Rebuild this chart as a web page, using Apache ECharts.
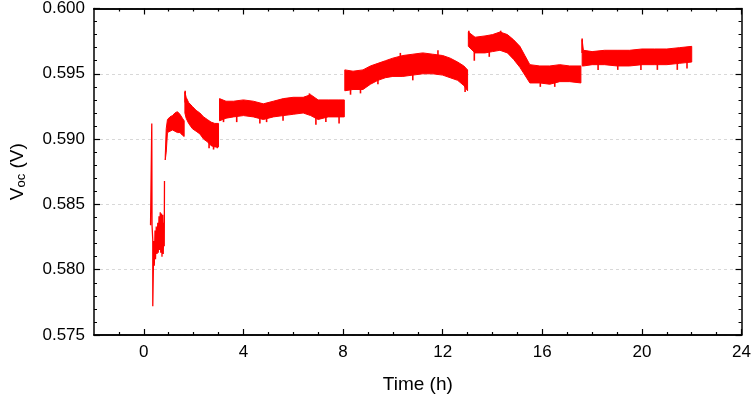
<!DOCTYPE html>
<html><head><meta charset="utf-8">
<script src="https://cdn.jsdelivr.net/npm/echarts@6/dist/echarts.min.js"></script>
<style>html,body{margin:0;padding:0;background:#fff}#c{width:754px;height:399px}</style>
</head><body><div id="c"></div>
<script>
// X tick values (h)
const xMajorTicks = [0, 4, 8, 12, 16, 20, 24];
const xMinorTicks = [-1, 1, 2, 3, 5, 6, 7, 9, 10, 11, 13, 14, 15, 17, 18, 19, 21, 22, 23];

// Start-up transient (h, V)
const transientTime = [0.27, 0.31, 0.32, 0.33, 0.36, 0.36, 0.40, 0.42, 0.45, 0.47, 0.50, 0.53, 0.56, 0.58, 0.61, 0.63, 0.66, 0.68, 0.71, 0.73, 0.76, 0.78, 0.80, 0.82, 0.83];
const transientVoc  = [0.5834, 0.5834, 0.5912, 0.5834, 0.5823, 0.5772, 0.5822, 0.5803, 0.5830, 0.5808, 0.5833, 0.5812, 0.5836, 0.5813, 0.5841, 0.5815, 0.5844, 0.5813, 0.5843, 0.5810, 0.5842, 0.5812, 0.5836, 0.5818, 0.5868];

// Noisy band: time (h), upper and lower envelope (V); null separates segments
const time = [
  0.86, 0.90, 0.95, 1.05, 1.15, 1.25, 1.35, 1.45, 1.55, 1.62, null,
  1.65, 1.70, 1.80, 1.95, 2.10, 2.25, 2.40, 2.55, 2.70, 2.85, 3.00, null,
  3.04, 3.3, 3.6, 4.0, 4.4, 4.8, 5.2, 5.6, 6.0, 6.4, 6.7, 7.0, 7.4, 7.8, 8.05, null,
  8.07, 8.4, 8.8, 9.1, 9.4, 9.7, 10.0, 10.4, 10.8, 11.2, 11.6, 12.0, 12.3, 12.6, 12.85, 13.0, null,
  13.03, 13.3, 13.7, 14.0, 14.3, 14.6, 14.85, 15.1, 15.3, 15.5, 15.9, 16.3, 16.7, 17.1, 17.55, null,
  17.6, 17.65, 18.0, 18.5, 19.0, 19.5, 20.0, 20.5, 21.0, 21.5, 22.0
];
const upper = [
  0.5887, 0.5908, 0.5915, 0.5917, 0.5918, 0.5920, 0.5921, 0.5919, 0.5916, 0.5914, null,
  0.5936, 0.5932, 0.5928, 0.5925, 0.5922, 0.5920, 0.5917, 0.5915, 0.5913, 0.5912, 0.5912, null,
  0.5931, 0.5929, 0.5929, 0.5930, 0.5929, 0.5927, 0.5929, 0.5931, 0.5932, 0.5932, 0.5934, 0.5930, 0.5930, 0.5930, 0.5930, null,
  0.5953, 0.5952, 0.5953, 0.5956, 0.5958, 0.5960, 0.5962, 0.5964, 0.5965, 0.5966, 0.5965, 0.5964, 0.5962, 0.5959, 0.5956, 0.5953, null,
  0.5982, 0.5978, 0.5979, 0.5980, 0.5982, 0.5980, 0.5976, 0.5971, 0.5964, 0.5957, 0.5956, 0.5956, 0.5957, 0.5956, 0.5956, null,
  0.5976, 0.5968, 0.5967, 0.5968, 0.5968, 0.5968, 0.5969, 0.5969, 0.5969, 0.5970, 0.5971
];
const lower = [
  0.5884, 0.5890, 0.5905, 0.5906, 0.5907, 0.5906, 0.5905, 0.5905, 0.5903, 0.5902, null,
  0.5920, 0.5916, 0.5912, 0.5908, 0.5906, 0.5904, 0.5900, 0.5898, 0.5895, 0.5894, 0.5894, null,
  0.5914, 0.5916, 0.5917, 0.5918, 0.5917, 0.5915, 0.5917, 0.5918, 0.5919, 0.5920, 0.5918, 0.5915, 0.5917, 0.5917, 0.5917, null,
  0.5937, 0.5938, 0.5938, 0.5942, 0.5945, 0.5947, 0.5948, 0.5948, 0.5949, 0.5950, 0.5950, 0.5949, 0.5947, 0.5945, 0.5941, 0.5937, null,
  0.5971, 0.5966, 0.5966, 0.5967, 0.5968, 0.5966, 0.5961, 0.5955, 0.5949, 0.5943, 0.5943, 0.5942, 0.5944, 0.5944, 0.5943, null,
  0.5956, 0.5956, 0.5957, 0.5957, 0.5956, 0.5956, 0.5957, 0.5957, 0.5957, 0.5958, 0.5959
];

// Individual noise spikes (h, V)
const spikeTime = [1.66, 2.62, 2.80, 2.95,
  3.20, 3.73, 4.66, 4.93, 5.59, 6.65, 6.91, 7.31, 7.84,
  8.30, 8.70, 9.40, 10.30, 10.80, 11.81, 12.90,
  13.05, 13.27, 13.87, 14.33, 15.92, 16.50,
  17.60, 18.24, 19.03, 19.96, 20.62, 21.42, 21.81];
const spikeVoc = [0.5937, 0.5893, 0.5892, 0.5893,
  0.5913, 0.5913, 0.5912, 0.5913, 0.5914, 0.5935, 0.5911, 0.5913, 0.5912,
  0.5934, 0.5935, 0.5942, 0.5966, 0.5945, 0.5968, 0.5936,
  0.5983, 0.5960, 0.5963, 0.5983, 0.5940, 0.5940,
  0.5977, 0.5953, 0.5953, 0.5953, 0.5953, 0.5953, 0.5954];

// split into segments
const segments = [];
let cur = [];
for (let i = 0; i < time.length; i++) {
  if (time[i] === null) { if (cur.length) segments.push(cur); cur = []; }
  else cur.push(i);
}
if (cur.length) segments.push(cur);

function nearestSample(t) {
  let best = -1, bd = Infinity;
  for (let i = 0; i < time.length; i++) {
    if (time[i] === null) continue;
    const d = Math.abs(time[i] - t);
    if (d < bd) { bd = d; best = i; }
  }
  return best;
}

const RED = '#ff0000';
const FONT = 'Liberation Sans, Arial, sans-serif';

const chart = echarts.init(document.getElementById('c'), null, {renderer: 'canvas'});

function xAxisDef(pos, ticks, len, labels) {
  return {
    type: 'value', position: pos, min: -2, max: 24, interval: 1,
    axisLine: {show: true, onZero: false, lineStyle: {color: '#000', width: 1.5}},
    axisTick: {show: true, inside: true, length: len, customValues: ticks, lineStyle: {color: '#000', width: 1.2}},
    axisLabel: labels ? {show: true, customValues: xMajorTicks, fontSize: 17, color: '#000', fontFamily: FONT, margin: 9} : {show: false},
    splitLine: {show: false}
  };
}

const option = {
  animation: false,
  backgroundColor: '#fff',
  grid: {left: 91, right: 9, top: 8, bottom: 63, containLabel: false},
  xAxis: [
    Object.assign(xAxisDef('bottom', xMinorTicks, 3, true), {
      name: 'Time (h)', nameLocation: 'middle', nameGap: 40,
      nameTextStyle: {fontSize: 19, color: '#000', fontFamily: FONT}
    }),
    xAxisDef('bottom', xMajorTicks, 6, false),
    xAxisDef('top', xMinorTicks, 3, false),
    xAxisDef('top', xMajorTicks, 6, false)
  ],
  yAxis: [
    {
      type: 'value', position: 'left', min: 0.575, max: 0.600, interval: 0.005,
      axisLine: {show: true, onZero: false, lineStyle: {color: '#000', width: 1.5}},
      axisTick: {show: true, inside: true, length: 6, lineStyle: {color: '#000', width: 1.2}},
      minorTick: {show: true, splitNumber: 5, length: 3, lineStyle: {color: '#000', width: 1}},
      axisLabel: {fontSize: 17, color: '#000', fontFamily: FONT, margin: 9, formatter: v => v.toFixed(3)},
      splitLine: {show: true, lineStyle: {color: '#d8d8d8', type: [3, 3], width: 1}},
      name: '{a|V}{b|oc}{a| (V)}', nameLocation: 'middle', nameGap: 66, nameRotate: 90,
      nameTextStyle: {color: '#000', fontFamily: FONT, rich: {
        a: {fontSize: 19, fontFamily: FONT, color: '#000'},
        b: {fontSize: 13, fontFamily: FONT, color: '#000', verticalAlign: 'bottom', padding: [8, 0, 0, 0]}
      }}
    },
    {
      type: 'value', position: 'right', min: 0.575, max: 0.600, interval: 0.005,
      axisLine: {show: true, onZero: false, lineStyle: {color: '#000', width: 1.5}},
      axisTick: {show: true, inside: true, length: 6, lineStyle: {color: '#000', width: 1.2}},
      minorTick: {show: true, splitNumber: 5, length: 3, lineStyle: {color: '#000', width: 1}},
      axisLabel: {show: false},
      splitLine: {show: false}
    }
  ],
  series: [
    {
      type: 'custom',
      xAxisIndex: 0, yAxisIndex: 0,
      data: segments.map((s, k) => [time[s[0]], upper[s[0]], k]),
      encode: {x: 0, y: 1},
      renderItem: function (params, api) {
        const seg = segments[params.dataIndex];
        const pts = [];
        seg.forEach(i => pts.push(api.coord([time[i], upper[i]])));
        for (let j = seg.length - 1; j >= 0; j--) pts.push(api.coord([time[seg[j]], lower[seg[j]]]));
        return {type: 'polygon', shape: {points: pts}, style: {fill: RED, stroke: RED, lineWidth: 1}};
      },
      z: 3
    },
    {
      type: 'custom',
      xAxisIndex: 0, yAxisIndex: 0,
      data: spikeTime.map((t, i) => [t, spikeVoc[i]]),
      encode: {x: 0, y: 1},
      renderItem: function (params, api) {
        const t = api.value(0), v = api.value(1);
        const i = nearestSample(t);
        const mid = (upper[i] + lower[i]) / 2;
        const p1 = api.coord([t, v]), p2 = api.coord([t, mid]);
        return {type: 'line', shape: {x1: p1[0], y1: p1[1], x2: p2[0], y2: p2[1]}, style: {stroke: RED, lineWidth: 1.6}};
      },
      z: 3
    },
    {
      type: 'line',
      xAxisIndex: 0, yAxisIndex: 0,
      data: transientTime.map((t, i) => [t, transientVoc[i]]),
      showSymbol: false, symbol: 'none',
      lineStyle: {color: RED, width: 1.3},
      z: 3
    }
  ]
};
chart.setOption(option);
</script></body></html>
